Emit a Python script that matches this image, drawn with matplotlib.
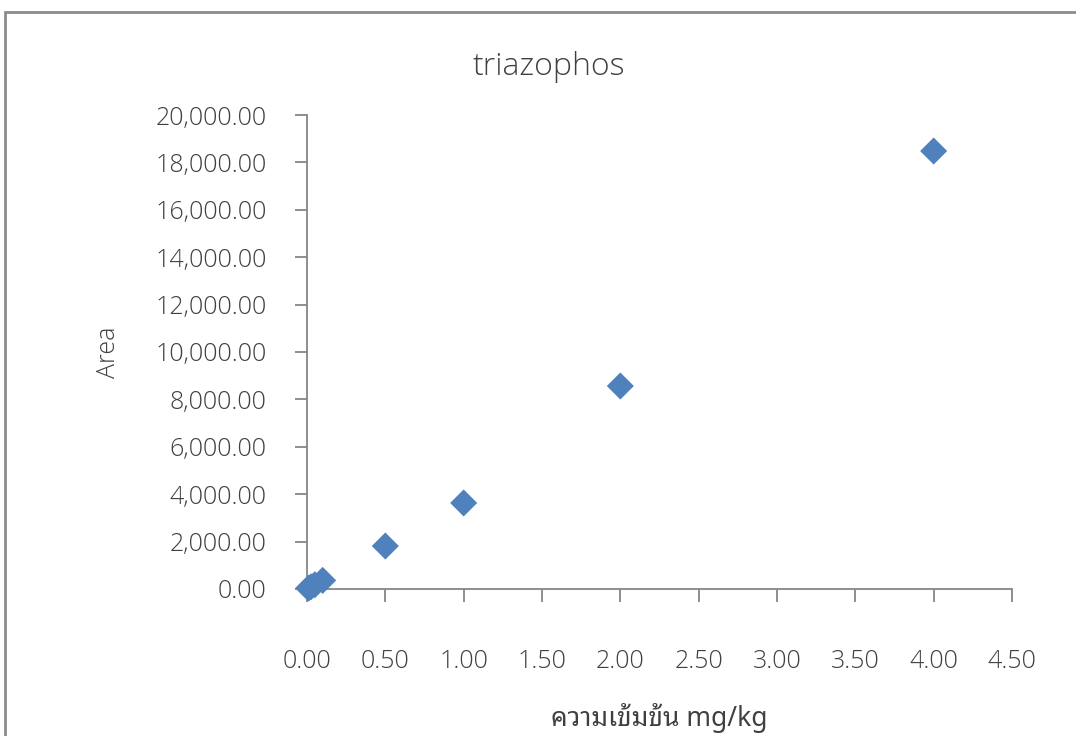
import matplotlib
matplotlib.use("Agg")
import matplotlib.pyplot as plt
from matplotlib import font_manager as fm
from matplotlib.patches import Rectangle
from matplotlib.ticker import FuncFormatter, MultipleLocator

avail = {f.name for f in fm.fontManager.ttflist}
thai = next((n for n in ['Noto Sans Thai Looped', 'Sarabun', 'Noto Sans Thai', 'Anuphan', 'Athiti']
             if n in avail), 'DejaVu Sans')
plt.rcParams['font.family'] = ['Open Sans', 'DejaVu Sans']

title = "triazophos"
x_label = "ความเข้มข้น mg/kg"
y_label = "Area"
conc = [0.01, 0.025, 0.05, 0.1, 0.5, 1.0, 2.0, 4.0]
area = [36, 91, 181, 363, 1814, 3630, 8565, 18480]

fig = plt.figure(figsize=(10.76, 7.36), dpi=100)
ax = fig.add_axes([307/1076, 1-589/736, (1012-307)/1076, (589-115)/736])

ax.scatter(conc, area, marker='D', s=190, color='#4F81BD', edgecolors='none', zorder=3, clip_on=False)

ax.set_xlim(0, 4.5)
ax.set_ylim(0, 20000)
ax.xaxis.set_major_locator(MultipleLocator(0.5))
ax.yaxis.set_major_locator(MultipleLocator(2000))
ax.xaxis.set_major_formatter(FuncFormatter(lambda v, p: f"{v:.2f}"))
ax.yaxis.set_major_formatter(FuncFormatter(lambda v, p: f"{v:,.2f}"))

gray = '#868686'
txt = '#404040'
for s in ['top', 'right']:
    ax.spines[s].set_visible(False)
for s in ['left', 'bottom']:
    ax.spines[s].set_color(gray)
    ax.spines[s].set_linewidth(1.3)
ax.tick_params(axis='both', direction='out', length=9, width=1.3, color=gray,
               labelsize=18, labelcolor=txt)
for lab in ax.get_xticklabels() + ax.get_yticklabels():
    lab.set_fontweight('light')
ax.tick_params(axis='x', pad=34)
ax.tick_params(axis='y', pad=20)

fig.text(549/1076, 1-67/736, title, fontsize=23, color=txt, ha='center', va='center',
         fontweight='light')
fig.text(659/1076, 1-718/736, x_label, fontsize=19, color=txt, ha='center', va='center',
         family=[thai, 'Open Sans', 'DejaVu Sans'], fontweight='light')
ax.set_ylabel(y_label, fontsize=18, color=txt, labelpad=25, fontweight='light')

fig.patches.append(Rectangle((5/1076, -0.1), 1.2, 1-12/736+0.1, transform=fig.transFigure,
                             fill=False, edgecolor='#8c8c8c', linewidth=2, zorder=0))

fig.savefig("out.png", dpi=100)
